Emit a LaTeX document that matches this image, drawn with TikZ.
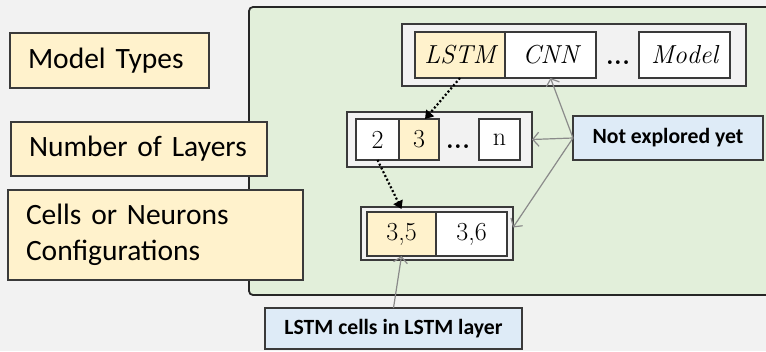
\documentclass[tikz,border=0pt]{standalone}
\usepackage{fontspec}
\newfontfamily\labelfont{Carlito}
\usetikzlibrary{arrows.meta}
\definecolor{bggray}{HTML}{F2F2F2}
\definecolor{panelgreen}{HTML}{E2EFDA}
\definecolor{paleyellow}{HTML}{FFF2CC}
\definecolor{paleblue}{HTML}{DEEBF7}
\definecolor{edge}{HTML}{3A3A3A}
\definecolor{arrowgray}{HTML}{8A8A8A}
\begin{document}
\begin{tikzpicture}[x=1pt,y=-1pt,
  box/.style={draw=edge, line width=1.5pt, inner sep=0pt, outer sep=0pt, anchor=north west},
  levelbox/.style={box, fill=paleyellow, align=left, inner xsep=18pt,
    font=\labelfont\fontsize{29.5}{36}\selectfont},
  group/.style={box, fill=bggray},
  cell/.style={box, fill=white, font=\fontsize{26}{30}\selectfont},
  chosen/.style={cell, fill=paleyellow},
  dotsnode/.style={inner sep=0pt, anchor=base, font=\bfseries\fontsize{26}{30}\selectfont},
  note/.style={box, fill=paleblue, font=\labelfont\bfseries\fontsize{21.7}{26}\selectfont},
  open/.style={draw=arrowgray, line width=1.2pt, -{Straight Barb[length=6pt,width=14pt]}},
  path/.style={draw=black, line width=2.2pt, dash pattern=on 2pt off 2.2pt,
    -{Triangle[length=8pt,width=10pt]}}
]
\useasboundingbox (0,0) rectangle (766,351);
\fill[bggray] (0,0) rectangle (766,351);

% search-space panel
\draw[fill=panelgreen, draw=black!85, line width=1.8pt, rounded corners=4pt]
  (249,7) rectangle (790,295);

% hierarchy levels on the left
\node[levelbox, text width=163pt, minimum height=55pt] (types) at (10,33) {Model Types};
\node[levelbox, text width=220pt, minimum height=54pt] (layers) at (11,122) {Number of Layers};
\node[levelbox, text width=259pt, minimum height=90pt] (cells) at (8,190)
  {Cells or Neurons\\Configurations};

% model types
\node[group, minimum width=344pt, minimum height=62pt] (g1) at (402,24) {};
\node[chosen, minimum width=90pt, minimum height=46pt] (lstm) at (415,32) {$\mathit{LSTM}$};
\node[cell, minimum width=91pt, minimum height=46pt] (cnn) at (505,32) {$\mathit{CNN}$};
\node[dotsnode] (d1) at (618,64) {...};
\node[cell, minimum width=91pt, minimum height=46pt] (model) at (639,32) {$\mathit{Model}$};

% number of layers
\node[group, minimum width=185pt, minimum height=55pt] (g2) at (347,112) {};
\node[cell, minimum width=43pt, minimum height=41pt] (c2) at (356,119) {2};
\node[chosen, minimum width=40pt, minimum height=41pt] (c3) at (399,119) {3};
\node[dotsnode] (d2) at (458,148) {...};
\node[cell, minimum width=41pt, minimum height=41pt] (cn) at (479,119) {n};

% cell configurations
\node[group, minimum width=152pt, minimum height=53pt] (g3) at (361,207) {};
\node[chosen, minimum width=69pt, minimum height=44pt] (c35) at (367,212) {3,5};
\node[cell, minimum width=71pt, minimum height=44pt] (c36) at (436,212) {3,6};

% notes
\node[note, minimum width=190pt, minimum height=44pt] (ne) at (573,116) {Not explored yet};
\node[note, minimum width=257pt, minimum height=41pt] (lc) at (265,308) {LSTM cells in LSTM layer};

% explored path
\draw[path] (lstm.south) -- ([xshift=6pt]c3.north);
\draw[path] (c2.south) -- ([yshift=3pt]c35.north);

% pointers from the notes
\draw[open] (ne.west) -- (cnn.south);
\draw[open] (ne.west) -- (g2.east);
\draw[open] (ne.west) -- ([yshift=6pt]g3.east);
\draw[open] (lc.north) -- (c35.south);
\end{tikzpicture}
\end{document}
